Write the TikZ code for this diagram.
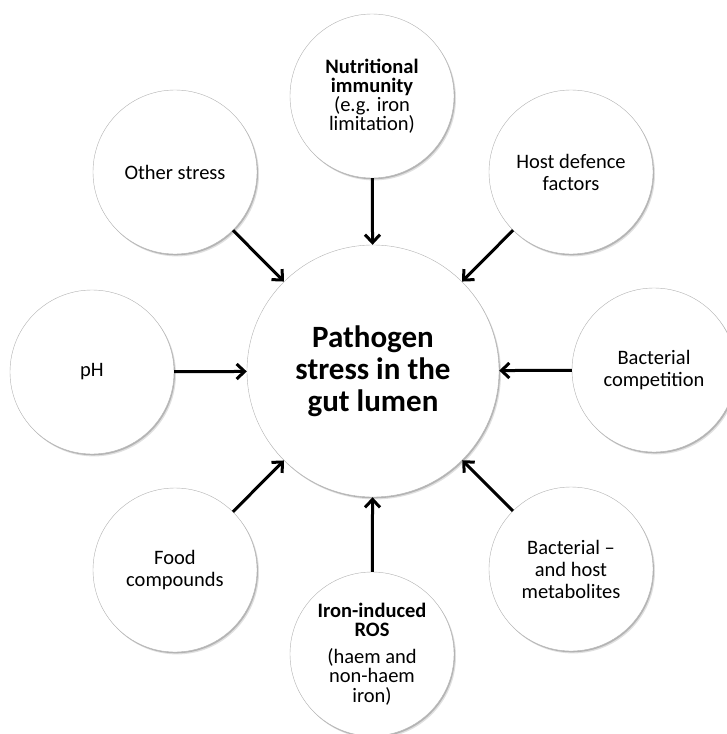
\documentclass[tikz,border=0pt]{standalone}
\usepackage{fontspec}
\setmainfont{Carlito}
\usetikzlibrary{arrows.meta,shadows}

\begin{document}
\begin{tikzpicture}[x=1pt,y=-1pt,
    hub/.style={circle,draw=black!30,fill=white,minimum size=252pt,inner sep=0pt,align=center,
      font=\fontsize{31}{32}\selectfont\bfseries,
      drop shadow={shadow xshift=2pt,shadow yshift=-2.4pt,fill=black,opacity=0.12},
      drop shadow={shadow xshift=1pt,shadow yshift=-1.3pt,fill=black,opacity=0.2}},
    factor/.style={circle,draw=black!30,fill=white,minimum size=164pt,inner sep=0pt,align=center,
      font=\fontsize{20.5}{22}\selectfont,
      drop shadow={shadow xshift=2pt,shadow yshift=-2.4pt,fill=black,opacity=0.12},
      drop shadow={shadow xshift=1pt,shadow yshift=-1.3pt,fill=black,opacity=0.2}},
    arr/.style={-{Straight Barb[length=8pt,width=15pt]},line width=3pt}]
    \useasboundingbox (0,0) rectangle (727,734);
    \node[hub] (hub) at (373,371) {Pathogen\\stress in the\\gut lumen};
    % factors round the hub
    \node[factor,font=\fontsize{20.5}{19}\selectfont] (nutri) at (372,96)
      {\textbf{Nutritional}\\\textbf{immunity}\\(e.g. iron\\limitation)};
    \node[factor] (host) at (571,172) {Host defence\\factors};
    \node[factor] (compet) at (654,370) {Bacterial\\competition};
    \node[factor] (metab) at (571,569) {Bacterial \textendash\\and host\\metabolites};
    \node[factor,font=\fontsize{20.5}{19.5}\selectfont] (ros) at (372,654)
      {\textbf{Iron-induced}\\\textbf{ROS}\\[7pt](haem and\\non-haem\\iron)};
    \node[factor] (food) at (175,570) {Food\\compounds};
    \node[factor] (ph) at (92,372) {pH};
    \node[factor] (other) at (175,172) {Other stress};
    \draw[arr] (nutri)--(hub); \draw[arr] (host)--(hub);
    \draw[arr] (compet)--(hub); \draw[arr] (metab)--(hub);
    \draw[arr] (ros)--(hub); \draw[arr] (food)--(hub);
    \draw[arr] (ph)--(hub); \draw[arr] (other)--(hub);
\end{tikzpicture}
\end{document}
